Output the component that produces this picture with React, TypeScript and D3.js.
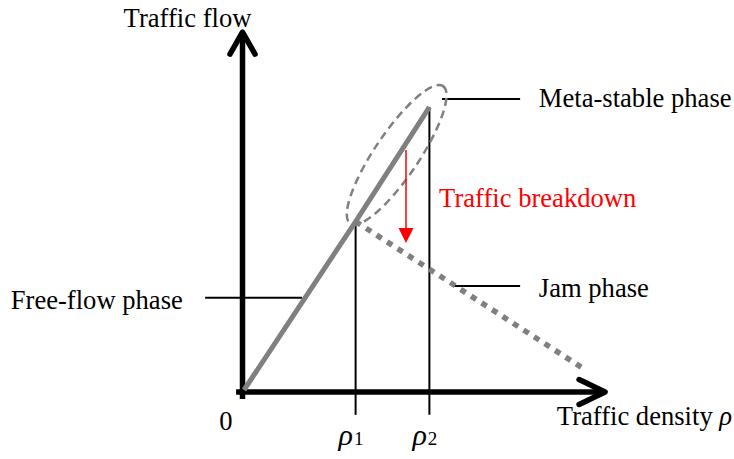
import React from "react";
import * as d3 from "d3";

// fundamental diagram, abstract units (density 0..100, flow 0..100)
const freeFlowRho = [0, 31, 51.5];
const freeFlowQ = [0, 46.8, 78.6];
const jamRho = [31, 94.2];
const jamQ = [46.8, 6];
const criticalRho = [31, 51.5];
const criticalQ = [46.8, 78.6];
const criticalLabels = ["1", "2"];
const breakdownRho = 45;
const breakdownQ = [66.7, 40.8];

const phaseLabels = ["Meta-stable phase", "Free-flow phase", "Jam phase"];
const leaderRho = [
  [55, 76.7],
  [-10.8, 16.1],
  [57.8, 76.7],
];
const leaderQ = [80.8, 25.6, 28.9];

const W = 734;
const H = 459;
const font = "Liberation Serif, DejaVu Serif, serif";
const gray = "#808080";

const App = () => {
  const x = d3.scaleLinear().domain([0, 100]).range([244, 604]);
  const y = d3.scaleLinear().domain([0, 100]).range([390, 30]);

  const line = d3
    .line<number>()
    .x((_, i) => x(freeFlowRho[i]))
    .y((d) => y(d));
  const jamLine = d3
    .line<number>()
    .x((_, i) => x(jamRho[i]))
    .y((d) => y(d));

  const ax0 = x(0) - 1.5;
  const ay0 = y(0) + 2;
  const yTop = y(99.4);
  const xEnd = x(100.3);

  // ellipse around the meta-stable branch
  const ex = x(42.4);
  const ey = y(65.3);

  return (
    <svg
      width={W}
      height={H}
      style={{ position: "absolute", left: 0, top: 0, background: "#fff", fontFamily: font }}
    >
      {/* axes */}
      <g stroke="#000" strokeWidth={5.5} fill="none" strokeLinecap="round" strokeLinejoin="round">
        <line x1={ax0} y1={y(-2.5)} x2={ax0} y2={yTop + 2} strokeLinecap="butt" />
        <line x1={x(-2.2)} y1={ay0} x2={xEnd - 2} y2={ay0} strokeLinecap="butt" />
        <polyline points={`${ax0 - 12.5},${yTop + 22} ${ax0},${yTop} ${ax0 + 12.5},${yTop + 22}`} />
        <polyline points={`${xEnd - 26},${ay0 - 12.5} ${xEnd},${ay0} ${xEnd - 26},${ay0 + 12.5}`} />
      </g>

      {/* critical density lines */}
      {criticalRho.map((r, i) => (
        <line
          key={i}
          x1={x(r)}
          x2={x(r)}
          y1={y(criticalQ[i])}
          y2={y(-6.9)}
          stroke="#000"
          strokeWidth={2}
        />
      ))}

      {/* leader lines */}
      {leaderRho.map((r, i) => (
        <line
          key={i}
          x1={x(r[0])}
          x2={x(r[1])}
          y1={y(leaderQ[i])}
          y2={y(leaderQ[i])}
          stroke="#000"
          strokeWidth={2}
        />
      ))}

      {/* free flow branch */}
      <path d={line(freeFlowQ) ?? ""} fill="none" stroke={gray} strokeWidth={5} />
      {/* jam branch */}
      <path
        d={jamLine(jamQ) ?? ""}
        fill="none"
        stroke={gray}
        strokeWidth={5.5}
        strokeDasharray="6 6.5"
      />

      {/* ellipse */}
      <ellipse
        cx={ex}
        cy={ey}
        rx={83}
        ry={22}
        transform={`rotate(-56 ${ex} ${ey})`}
        fill="none"
        stroke={gray}
        strokeWidth={2.5}
        strokeDasharray="8 5"
      />

      {/* breakdown arrow */}
      <line
        x1={x(breakdownRho)}
        x2={x(breakdownRho)}
        y1={y(breakdownQ[0])}
        y2={y(breakdownQ[1]) - 12}
        stroke="#ff0000"
        strokeWidth={1.5}
      />
      <path
        d={`M${x(breakdownRho) - 7.5},${y(breakdownQ[1]) - 15} L${x(breakdownRho) + 7.5},${y(
          breakdownQ[1]
        ) - 15} L${x(breakdownRho)},${y(breakdownQ[1])} Z`}
        fill="#ff0000"
      />

      {/* texts */}
      <g fontSize={26.6} fill="#000" style={{ fontFamily: font }}>
        <text x={187.5} y={27} textAnchor="middle">
          Traffic flow
        </text>
        <text x={x(81.9)} y={y(78.6)}>
          {phaseLabels[0]}
        </text>
        <text x={x(-17)} y={y(22.5)} textAnchor="end">
          {phaseLabels[1]}
        </text>
        <text x={x(81.9)} y={y(25.8)}>
          {phaseLabels[2]}
        </text>
        <text x={x(54.2)} y={y(50.8)} fill="#ff0000">
          Traffic breakdown
        </text>
        <text x={x(86.9)} y={y(-9.7)}>
          Traffic density <tspan fontStyle="italic">ρ</tspan>
        </text>
        <text x={x(-6.9)} y={y(-11.1)}>
          0
        </text>
        {criticalRho.map((r, i) => (
          <text key={i} x={x(r) - 17} y={y(-15.3)}>
            <tspan fontStyle="italic" fontSize={30}>
              ρ
            </tspan>
            <tspan fontSize={19} dx={1}>
              {criticalLabels[i]}
            </tspan>
          </text>
        ))}
      </g>
    </svg>
  );
};

export default App;
